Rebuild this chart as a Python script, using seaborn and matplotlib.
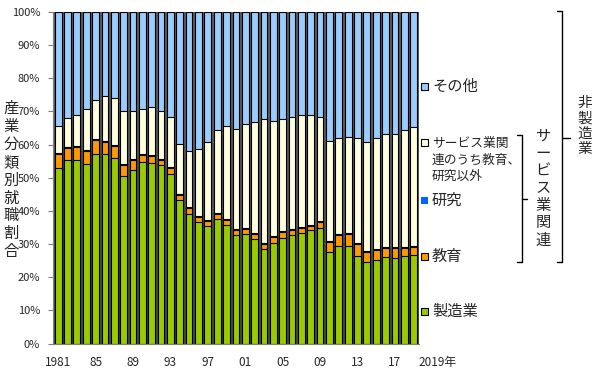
import numpy as np
import pandas as pd
import matplotlib
matplotlib.use("Agg")
import matplotlib.pyplot as plt
from matplotlib.lines import Line2D
from matplotlib.patches import Rectangle
from matplotlib.transforms import ScaledTranslation
import seaborn as sns

years = list(range(1981, 2020))
manufacturing = [52.9, 55.3, 55.3, 54.1, 57.1, 57.1, 56.1, 50.5, 52.3, 54.7,
                 54.5, 53.9, 51.1, 43.2, 39.2, 36.6, 35.3, 37.6, 35.7, 32.7,
                 33.1, 31.5, 28.5, 30.3, 31.7, 32.7, 33.3, 34.1, 34.7, 27.5,
                 29.3, 29.3, 26.5, 24.7, 25.1, 26.1, 25.9, 26.3, 26.7]
education = [4.2, 3.6, 4.0, 4.0, 4.2, 3.8, 3.4, 3.2, 3.0, 2.2,
             2.0, 1.6, 1.8, 1.6, 1.6, 1.6, 1.7, 1.4, 1.5, 1.4,
             1.4, 1.6, 1.6, 1.8, 1.8, 1.6, 1.6, 1.4, 2.0, 3.0,
             3.4, 3.6, 3.4, 3.0, 3.0, 2.8, 2.8, 2.4, 2.4]
research = [0.3, 0.3, 0.3, 0.3, 0.3, 0.3, 0.3, 0.3, 0.3, 0.3,
            0.3, 0.3, 0.3, 0.3, 0.3, 0.3, 0.3, 0.3, 0.3, 0.3,
            0.3, 0.3, 0.3, 0.3, 0.3, 0.3, 0.3, 0.3, 0.3, 0.3,
            0.3, 0.3, 0.3, 0.3, 0.3, 0.3, 0.3, 0.3, 0.3]
service_other = [8.3, 8.8, 9.4, 12.4, 11.9, 13.4, 14.4, 16.0, 14.6, 13.4,
                 14.4, 14.4, 15.0, 15.2, 17.0, 20.2, 23.4, 25.1, 28.2, 30.3,
                 31.4, 33.4, 37.4, 34.6, 34.0, 33.6, 33.6, 33.0, 31.4, 30.3,
                 28.9, 29.1, 31.9, 32.7, 33.7, 34.1, 34.1, 35.4, 35.9]
other = [34.3, 32.0, 31.0, 29.2, 26.5, 25.4, 25.8, 30.0, 29.8, 29.4,
         28.8, 29.8, 31.8, 39.7, 41.9, 41.3, 39.3, 35.6, 34.3, 35.3,
         33.8, 33.2, 32.2, 33.0, 32.2, 31.8, 31.2, 31.2, 31.6, 38.9,
         38.1, 37.7, 37.9, 39.3, 37.9, 36.7, 36.9, 35.6, 34.7]

series_names = ["製造業", "教育", "研究", "サービス業関連のうち教育、研究以外", "その他"]
legend_texts = ["製造業", "教育", "研究", "サービス業関\n連のうち教育、\n研究以外", "その他"]
colors = ["#99cc00", "#ff9900", "#0066ff", "#ffffe0", "#99ccff"]
xtick_years = [1981, 1985, 1989, 1993, 1997, 2001, 2005, 2009, 2013, 2017, 2019]
xtick_labels = ["1981", "85", "89", "93", "97", "01", "05", "09", "13", "17", "2019年"]
ytick_values = list(range(0, 101, 10))
ylabel = "産業分類別就職割合"
group_label = "サービス業関連"
outer_label = "非製造業"

sns.set_theme(style="white")
plt.rcParams["font.family"] = ["Noto Sans CJK JP", "DejaVu Sans"]

df = pd.DataFrame({
    "year": [str(y) for y in years],
    series_names[0]: manufacturing,
    series_names[1]: education,
    series_names[2]: research,
    series_names[3]: service_other,
    series_names[4]: other,
})
cum = df[series_names].cumsum(axis=1)

W, H = 600, 380
fig = plt.figure(figsize=(6, 3.8), dpi=100)
ax = fig.add_axes([53 / W, 1 - 343.5 / H, (418.5 - 53) / W, (343.5 - 12) / H])
ax.set_facecolor("#5a5a5a")

order = [str(y) for y in years]
for name, col in reversed(list(zip(series_names, colors))):
    sns.barplot(x=df["year"], y=cum[name], order=order, color=col, saturation=1,
                width=0.72, edgecolor="black", linewidth=0.8, ax=ax, zorder=2)

ax.set_xlim(-0.55, len(years) - 1 + 0.52)
ax.set_ylim(0, 100)
ax.set_xlabel("")
ax.set_ylabel("")
ax.set_yticks(ytick_values)
ax.set_yticklabels([f"{v}%" for v in ytick_values], fontsize=8)
ax.set_xticks([years.index(y) for y in xtick_years])
ax.set_xticklabels(xtick_labels, fontsize=8.5)
ax.tick_params(axis="x", length=0, pad=9)
ax.tick_params(axis="y", length=3.3, width=0.8, color="#808080", pad=6, left=True)
last = ax.get_xticklabels()[-1]
last.set_horizontalalignment("left")
last.set_transform(last.get_transform() + ScaledTranslation(5 / 100, 0, fig.dpi_scale_trans))
for s in ["top", "right"]:
    ax.spines[s].set_visible(False)
for s in ["left", "bottom"]:
    ax.spines[s].set_color("#808080")
    ax.spines[s].set_linewidth(0.8)

def fx(x):
    return x / W

def fy(y):
    return 1 - y / H

JP = 11

# y label (vertical)
fig.text(fx(11), fy(180), "\n".join(ylabel), ha="center", va="center",
         fontsize=JP, linespacing=1.07)

# legend
legend_y = [311.5, 256.5, 200, 160, 86]
for txt, col, yy, nm in zip(legend_texts, colors, legend_y, series_names):
    multi = "\n" in txt
    my = 142 if multi else yy
    ec = "none" if nm == "研究" else "black"
    fig.add_artist(Rectangle((fx(421), fy(my + 3.5)), 7 / W, 7 / H, transform=fig.transFigure,
                             facecolor=col, edgecolor=ec, linewidth=0.8))
    fig.text(fx(432), fy(yy), txt, ha="left", va="center",
             fontsize=9.2 if multi else JP, linespacing=1.32)

def brace(x, y0, y1, ym, serif, tick):
    fig.add_artist(Line2D([fx(x - serif), fx(x), fx(x), fx(x - serif)],
                          [fy(y0), fy(y0), fy(y1), fy(y1)], transform=fig.transFigure,
                          color="black", linewidth=1.0))
    fig.add_artist(Line2D([fx(x), fx(x + tick)], [fy(ym), fy(ym)], transform=fig.transFigure,
                          color="black", linewidth=1.0))

brace(521.5, 135, 262, 199, 4.5, 5)
brace(562, 10.5, 262, 138, 5.5, 8)

fig.text(fx(543), fy(188), "\n".join(group_label), ha="center", va="center",
         fontsize=JP, linespacing=1.03)
for i, ch in enumerate(outer_label):
    fig.text(fx(585), fy(103 + 15.5 * i), ch, ha="center", va="center", fontsize=10.5)

fig.savefig("out.png", dpi=100)
